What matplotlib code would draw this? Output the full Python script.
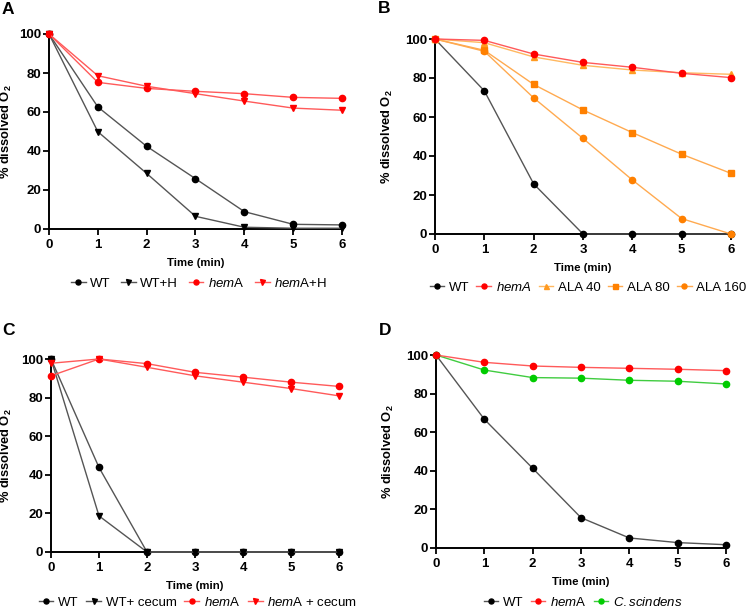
import matplotlib
matplotlib.use("Agg")
import matplotlib.pyplot as plt
from matplotlib.lines import Line2D

plt.rcParams['font.family'] = ['Liberation Sans', 'DejaVu Sans']
plt.rcParams['mathtext.fontset'] = 'custom'
plt.rcParams['mathtext.rm'] = 'Liberation Sans'
plt.rcParams['mathtext.it'] = 'Liberation Sans:italic'
plt.rcParams['mathtext.bf'] = 'Liberation Sans:bold'

time = [0, 1, 2, 3, 4, 5, 6]

# Panel A
a_wt = [100, 62.6, 42.4, 25.8, 8.9, 2.4, 2.1]
a_wt_h = [100, 49.9, 28.5, 6.5, 0.9, 0.4, 0.4]
a_hema = [100, 75.2, 72.1, 70.6, 69.4, 67.5, 67.0]
a_hema_h = [100, 78.6, 73.2, 69.4, 65.6, 62.0, 60.9]

# Panel B
b_wt = [100, 73.4, 25.7, 0, 0, 0, 0]
b_hema = [100, 99.3, 92.3, 88.0, 85.5, 82.4, 80.2]
b_ala40 = [100, 98.1, 90.8, 86.5, 84.1, 82.7, 81.9]
b_ala80 = [100, 94.2, 76.7, 63.6, 52.0, 40.9, 31.1]
b_ala160 = [100, 93.7, 69.8, 49.0, 27.7, 7.9, 0]

# Panel C
c_wt = [100, 43.8, 0, 0, 0, 0, 0]
c_wt_cecum = [100, 18.7, 0, 0, 0, 0, 0]
c_hema = [91.3, 100, 97.6, 93.1, 90.6, 88.0, 85.8]
c_hema_cecum = [97.8, 100, 95.7, 91.3, 88.0, 84.7, 80.9]

# Panel D
d_wt = [100, 66.7, 41.3, 15.7, 5.2, 2.8, 1.7]
d_hema = [100, 96.2, 94.3, 93.6, 93.1, 92.6, 91.9]
d_cscindens = [100, 92.2, 88.3, 88.0, 86.9, 86.4, 85.0]

BLK_L, BLK_M = '#555555', '#000000'
RED_L, RED_M = '#ff5a5a', '#ff0000'
OR_L, OR_M = '#ffaa50', '#ff8000'
OR40_L, OR40_M = '#ffb860', '#ff9a20'
GR_L, GR_M = '#40cc40', '#00cc00'

W, H = 750, 611
fig = plt.figure(figsize=(7.5, 6.11), dpi=100)

def setup(ax, letter, lx, ly, ylab_x):
    ax.set_xlim(0, 6)
    ax.set_ylim(0, 100)
    ax.set_xticks(time)
    ax.set_yticks([0, 20, 40, 60, 80, 100])
    for s in ['top', 'right']:
        ax.spines[s].set_visible(False)
    for s in ['left', 'bottom']:
        ax.spines[s].set_linewidth(1.4)
    ax.tick_params(direction='out', length=4, width=1.3, labelsize=9.5)
    ax.tick_params(axis='x', pad=3)
    ax.tick_params(axis='y', pad=1.5)
    for lab in ax.get_xticklabels() + ax.get_yticklabels():
        lab.set_fontweight('bold')
    ax.set_xlabel('Time (min)', fontsize=8.2, fontweight='bold', labelpad=5)
    ax.set_ylabel(r'% dissolved O$_{\mathbf{2}}$', fontsize=9.3, fontweight='bold')
    # ylab_x: right edge of the (rotated) y label in figure pixels
    bb = ax.get_position()
    ax.yaxis.set_label_coords((ylab_x / W - bb.x0) / bb.width, 0.5)
    fig.text(lx / W, 1 - ly / H, letter, fontsize=12.5, fontweight='bold',
             va='bottom', ha='left')

def plot(ax, y, lc, mc, m, ms=4.5):
    ax.plot(time, y, color=lc, lw=1.0, marker=m, markersize=ms,
            markerfacecolor=mc, markeredgecolor=mc, clip_on=False, zorder=3)

def legend(ax, handles_spec, ncol, cx, y, spacing=0.6):
    handles = [Line2D([], [], color=lc, lw=1.0, marker=m, markersize=3.6,
                      markerfacecolor=mc, markeredgecolor=mc, label=lab)
               for lab, lc, mc, m in handles_spec]
    bb = ax.get_position()
    ax.legend(handles=handles, loc='center',
              bbox_to_anchor=((cx / W - bb.x0) / bb.width, y),
              ncol=ncol, frameon=False, fontsize=9.5, handlelength=1.1,
              handletextpad=0.35, columnspacing=spacing, borderaxespad=0,
              borderpad=0)

# A
axA = fig.add_axes([49 / W, 1 - 229 / H, 293 / W, 195 / H])
plot(axA, a_wt, BLK_L, BLK_M, 'o')
plot(axA, a_wt_h, BLK_L, BLK_M, 'v')
plot(axA, a_hema, RED_L, RED_M, 'o')
plot(axA, a_hema_h, RED_L, RED_M, 'v')
setup(axA, 'A', 2, 17, 14)
legend(axA, [('WT', BLK_L, BLK_M, 'o'),
             ('WT+H', BLK_L, BLK_M, 'v'),
             (r'$\it{hem}$A', RED_L, RED_M, 'o'),
             (r'$\it{hem}$A+H', RED_L, RED_M, 'v')], 4, 199, -0.277, spacing=0.8)

# B
axB = fig.add_axes([435 / W, 1 - 234 / H, 296 / W, 195 / H])
plot(axB, b_wt, BLK_L, BLK_M, 'o')
plot(axB, b_ala160, OR_L, OR_M, 'o')
plot(axB, b_ala80, OR_L, OR_M, 's')
plot(axB, b_ala40, OR40_L, OR40_M, '^')
plot(axB, b_hema, RED_L, RED_M, 'o')
setup(axB, 'B', 378, 16, 395)
legend(axB, [('WT', BLK_L, BLK_M, 'o'),
             (r'$\it{hemA}$', RED_L, RED_M, 'o'),
             ('ALA 40', OR40_L, OR40_M, '^'),
             ('ALA 80', OR_L, OR_M, 's'),
             ('ALA 160', OR_L, OR_M, 'o')], 5, 588, -0.272, spacing=0.55)

# C
axC = fig.add_axes([51 / W, 1 - 552 / H, 288 / W, 193 / H])
plot(axC, c_wt, BLK_L, BLK_M, 'o')
plot(axC, c_wt_cecum, BLK_L, BLK_M, 'v')
plot(axC, c_hema, RED_L, RED_M, 'o')
plot(axC, c_hema_cecum, RED_L, RED_M, 'v')
setup(axC, 'C', 2, 338, 14)
legend(axC, [('WT', BLK_L, BLK_M, 'o'),
             ('WT+ cecum', BLK_L, BLK_M, 'v'),
             (r'$\it{hem}$A', RED_L, RED_M, 'o'),
             (r'$\it{hem}$A + cecum', RED_L, RED_M, 'v')], 4, 198, -0.26, spacing=0.6)

# D
axD = fig.add_axes([436 / W, 1 - 548 / H, 290 / W, 193 / H])
plot(axD, d_wt, BLK_L, BLK_M, 'o')
plot(axD, d_cscindens, GR_L, GR_M, 'o')
plot(axD, d_hema, RED_L, RED_M, 'o')
setup(axD, 'D', 379, 338, 396)
legend(axD, [('WT', BLK_L, BLK_M, 'o'),
             (r'$\it{hem}$A', RED_L, RED_M, 'o'),
             (r'$\it{C.scindens}$', GR_L, GR_M, 'o')], 3, 583, -0.28, spacing=0.55)

fig.savefig('out.png', dpi=100)
